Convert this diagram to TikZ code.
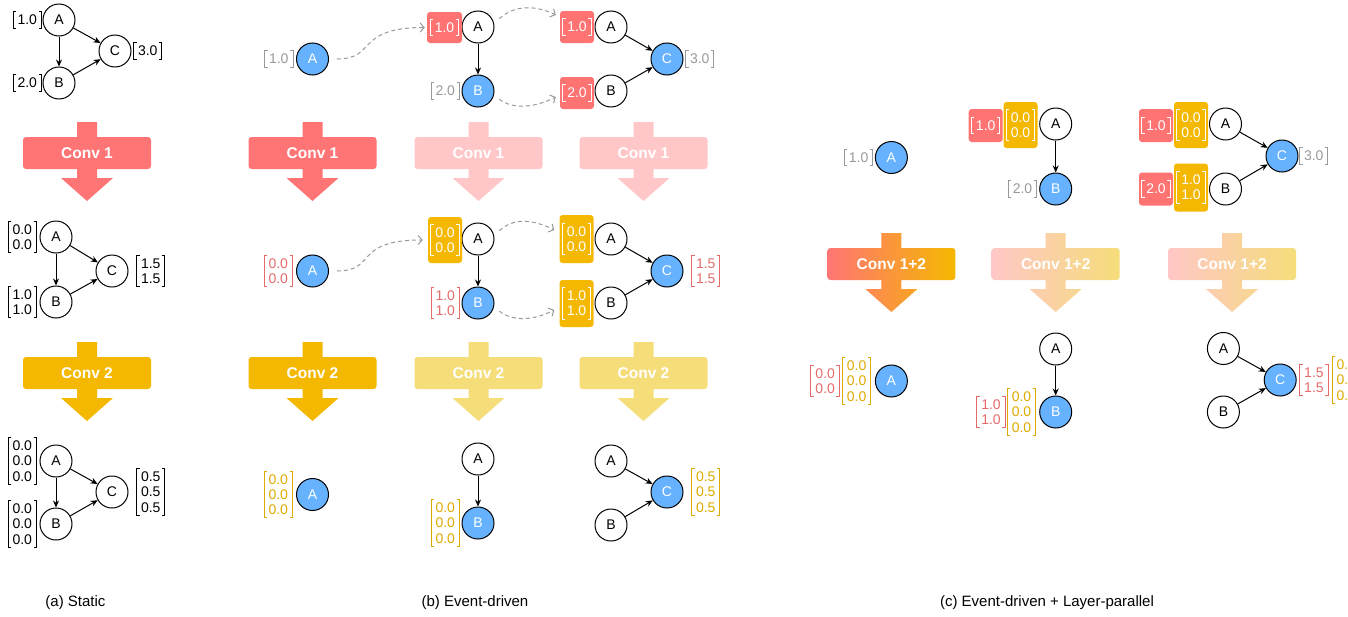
\documentclass[tikz,border=0pt]{standalone}
\usepackage{fontspec}
\setmainfont{Liberation Sans}
\usetikzlibrary{arrows.meta}
\definecolor{convred}{HTML}{FF7575}
\definecolor{convredL}{HTML}{FFC7C7}
\definecolor{convyel}{HTML}{F5B800}
\definecolor{convyelL}{HTML}{F5DD7A}
\definecolor{nodeblue}{HTML}{66B2FF}
\definecolor{labgray}{HTML}{999999}
\definecolor{labred}{HTML}{E56B6B}
\definecolor{labyel}{HTML}{DDAA00}
\definecolor{boxred}{HTML}{FF7373}
\definecolor{boxyel}{HTML}{F5B800}
\tikzset{
 wn/.style={circle, draw=black, line width=1pt, fill=white, minimum size=32pt, inner sep=0pt, font=\fontsize{14}{16}\selectfont},
 bn/.style={wn, fill=nodeblue, text=white},
 arr/.style={draw=black, line width=1pt, -{Stealth[length=7pt,width=6pt]}},
 evt/.style={draw=labgray, line width=1pt, dash pattern=on 4pt off 3pt, -{Straight Barb[length=4pt,width=9pt]}},
 mtxnode/.style={align=center, inner xsep=4.5pt, inner ysep=3.3pt, outer sep=0pt, font=\fontsize{14}{15.2}\selectfont},
 convtxt/.style={text=white, font=\fontsize{15.5}{18}\selectfont\bfseries, inner sep=0pt},
 capt/.style={font=\fontsize{15}{18}\selectfont}
}
% name, position, anchor, colour, rows
\newcommand{\mtx}[5]{%
  \node[mtxnode, text=#4, anchor=#3] (#1) at (#2) {#5};
  \draw[#4, line width=1pt] ([xshift=3pt]#1.north west) -- (#1.north west) -- (#1.south west) -- ([xshift=3pt]#1.south west);
  \draw[#4, line width=1pt] ([xshift=-3pt]#1.north east) -- (#1.north east) -- (#1.south east) -- ([xshift=-3pt]#1.south east);
}
% name, centre, width, height, fill, rows
\newcommand{\hlbox}[6]{%
  \node[rounded corners=3pt, fill=#5, minimum width=#3pt, minimum height=#4pt, inner sep=0pt] (#1) at (#2) {};
  \mtx{#1t}{#1.center}{center}{white}{#6}
}
% cx, top, half width, fill style, text, name
\newcommand{\convblk}[6]{%
  \path[#4] (#1-10,#2) rectangle (#1+10,#2+15)
     (#1-10,#2+47) rectangle (#1+10,#2+56)
     (#1-26,#2+56) -- (#1,#2+79) -- (#1+26,#2+56) -- cycle
     [rounded corners=3pt] (#1-#3,#2+15) rectangle (#1+#3,#2+47);
  \node[convtxt] (#6) at (#1,#2+31) {#5};
}
\begin{document}
\begin{tikzpicture}[x=1pt,y=-1pt]
\useasboundingbox (0,0) rectangle (1348,616);

% ================= (a) Static =================
\node[wn] (aA1) at (59,20) {A};
\node[wn] (aB1) at (59,83) {B};
\node[wn] (aC1) at (115,51) {C};
\draw[arr] (aA1) -- (aB1);
\draw[arr] (aA1) -- (aC1);
\draw[arr] (aB1) -- (aC1);
\mtx{aLA1}{[xshift=-1pt]aA1.west}{east}{black}{1.0}
\mtx{aLB1}{[xshift=-1pt]aB1.west}{east}{black}{2.0}
\mtx{aLC1}{[xshift=2pt]aC1.east}{west}{black}{3.0}

\convblk{87}{122}{64}{fill=convred}{Conv 1}{aConv1}

\node[wn] (aA2) at (56,237) {A};
\node[wn] (aB2) at (56,302) {B};
\node[wn] (aC2) at (112,271) {C};
\draw[arr] (aA2) -- (aB2);
\draw[arr] (aA2) -- (aC2);
\draw[arr] (aB2) -- (aC2);
\mtx{aLA2}{[xshift=-3pt]aA2.west}{east}{black}{0.0\\0.0}
\mtx{aLB2}{[xshift=-3pt]aB2.west}{east}{black}{1.0\\1.0}
\mtx{aLC2}{[xshift=8pt]aC2.east}{west}{black}{1.5\\1.5}

\convblk{87}{342}{64}{fill=convyel}{Conv 2}{aConv2}

\node[wn] (aA3) at (56,461) {A};
\node[wn] (aB3) at (56,524) {B};
\node[wn] (aC3) at (112,492) {C};
\draw[arr] (aA3) -- (aB3);
\draw[arr] (aA3) -- (aC3);
\draw[arr] (aB3) -- (aC3);
\mtx{aLA3}{[xshift=-3pt]aA3.west}{east}{black}{0.0\\0.0\\0.0}
\mtx{aLB3}{[xshift=-3pt]aB3.west}{east}{black}{0.0\\0.0\\0.0}
\mtx{aLC3}{[xshift=8pt]aC3.east}{west}{black}{0.5\\0.5\\0.5}

\node[capt] (capA) at (75.5,603) {(a) Static};

% ================= (b) Event-driven =================
% top row
\node[bn] (bA1) at (312.5,59) {A};
\mtx{bLA1}{[xshift=-3pt]bA1.west}{east}{labgray}{1.0}

\node[wn] (bA2) at (478,27) {A};
\node[bn] (bB2) at (478,91) {B};
\draw[arr] (bA2) -- (bB2);
\hlbox{rb21}{444.5,27.5}{35}{31}{boxred}{1.0}
\mtx{bLB2}{[xshift=-2pt]bB2.west}{east}{labgray}{2.0}

\node[wn] (bA3) at (611,27) {A};
\node[wn] (bB3) at (611,91) {B};
\node[bn] (bC3) at (667,59) {C};
\draw[arr] (bA3) -- (bC3);
\draw[arr] (bB3) -- (bC3);
\hlbox{rb31}{577,27}{34}{32}{boxred}{1.0}
\hlbox{rb32}{577,93}{34}{32}{boxred}{2.0}
\mtx{bLC3}{[xshift=2pt]bC3.east}{west}{labgray}{3.0}

\draw[evt] ([xshift=8pt]bA1.east) .. controls +(40,0) and +(-70,0) .. ([xshift=-2pt]rb21.west);
\draw[evt] ([xshift=7pt]bA2.30) .. controls +(15,-14) and +(-20,-10) .. ([xshift=-4pt,yshift=12pt]rb31.west);
\draw[evt] ([xshift=7pt]bB2.-30) .. controls +(15,11) and +(-20,10) .. ([xshift=-4pt,yshift=-4pt]rb32.west);

\convblk{312.5}{122}{64}{fill=convred}{Conv 1}{bConv1a}
\convblk{478.5}{122}{64}{fill=convredL}{Conv 1}{bConv1b}
\convblk{643.5}{122}{64}{fill=convredL}{Conv 1}{bConv1c}

% middle row
\node[bn] (bA4) at (312.5,271) {A};
\mtx{bLA4}{[xshift=-3.5pt]bA4.west}{east}{labred}{0.0\\0.0}

\node[wn] (bA5) at (478,239) {A};
\node[bn] (bB5) at (478,303) {B};
\draw[arr] (bA5) -- (bB5);
\hlbox{yb21}{445,240}{34}{46}{boxyel}{0.0\\0.0}
\mtx{bLB5}{[xshift=-2pt]bB5.west}{east}{labred}{1.0\\1.0}

\node[wn] (bA6) at (611,239) {A};
\node[wn] (bB6) at (611,303) {B};
\node[bn] (bC6) at (667,271) {C};
\draw[arr] (bA6) -- (bC6);
\draw[arr] (bB6) -- (bC6);
\hlbox{yb31}{576.5,239}{34}{48}{boxyel}{0.0\\0.0}
\hlbox{yb32}{576.5,303.5}{34}{47}{boxyel}{1.0\\1.0}
\mtx{bLC6}{[xshift=8pt]bC6.east}{west}{labred}{1.5\\1.5}

\draw[evt] ([xshift=8pt]bA4.east) .. controls +(40,0) and +(-70,0) .. ([xshift=-5pt]yb21.west);
\draw[evt] ([xshift=7pt]bA5.30) .. controls +(15,-14) and +(-20,-10) .. ([xshift=-5pt,yshift=9pt]yb31.west);
\draw[evt] ([xshift=7pt]bB5.-30) .. controls +(15,11) and +(-20,10) .. ([xshift=-5pt,yshift=-6.5pt]yb32.west);

\convblk{312.5}{342}{64}{fill=convyel}{Conv 2}{bConv2a}
\convblk{478.5}{342}{64}{fill=convyelL}{Conv 2}{bConv2b}
\convblk{643.5}{342}{64}{fill=convyelL}{Conv 2}{bConv2c}

% bottom row
\node[bn] (bA7) at (312.5,494.5) {A};
\mtx{bLA7}{[xshift=-3.5pt]bA7.west}{east}{labyel}{0.0\\0.0\\0.0}

\node[wn] (bA8) at (478,459) {A};
\node[bn] (bB8) at (478,523) {B};
\draw[arr] (bA8) -- (bB8);
\mtx{bLB8}{[xshift=-2pt]bB8.west}{east}{labyel}{0.0\\0.0\\0.0}

\node[wn] (bA9) at (611,461) {A};
\node[wn] (bB9) at (611,525) {B};
\node[bn] (bC9) at (667,492) {C};
\draw[arr] (bA9) -- (bC9);
\draw[arr] (bB9) -- (bC9);
\mtx{bLC9}{[xshift=8pt]bC9.east}{west}{labyel}{0.5\\0.5\\0.5}

\node[capt] (capB) at (475,603) {(b) Event-driven};

% ================= (c) Event-driven + Layer-parallel =================
\node[bn] (cA1) at (891.4,157.5) {A};
\mtx{cLA1}{[xshift=-2pt]cA1.west}{east}{labgray}{1.0}

\node[wn] (cA2) at (1055.7,124) {A};
\node[bn] (cB2) at (1055.7,189) {B};
\draw[arr] (cA2) -- (cB2);
\hlbox{crb21}{985.7,125.5}{34}{33}{boxred}{1.0}
\hlbox{cyb21}{1020.5,125}{34}{46}{boxyel}{0.0\\0.0}
\mtx{cLB2}{[xshift=-2.5pt]cB2.west}{east}{labgray}{2.0}

\node[wn] (cA3) at (1225.5,124) {A};
\node[wn] (cB3) at (1225.5,189) {B};
\node[bn] (cC3) at (1282,156) {C};
\draw[arr] (cA3) -- (cC3);
\draw[arr] (cB3) -- (cC3);
\hlbox{crb31}{1156,125.5}{34}{33}{boxred}{1.0}
\hlbox{cyb31}{1191,125}{34}{46}{boxyel}{0.0\\0.0}
\hlbox{crb32}{1156,189}{34}{33}{boxred}{2.0}
\hlbox{cyb32}{1191,187.5}{34}{48}{boxyel}{1.0\\1.0}
\mtx{cLC3}{[xshift=1pt]cC3.east}{west}{labgray}{3.0}

\convblk{891.4}{233}{64}{shade, left color=convred, right color=convyel}{Conv 1+2}{cConva}
\convblk{1055.7}{233}{64}{shade, left color=convredL, right color=convyelL}{Conv 1+2}{cConvb}
\convblk{1232}{233}{64}{shade, left color=convredL, right color=convyelL}{Conv 1+2}{cConvc}

\node[bn] (cA4) at (891.4,381) {A};
\mtx{cLA4y}{[xshift=-4pt]cA4.west}{east}{labyel}{0.0\\0.0\\0.0}
\mtx{cLA4r}{[xshift=-3pt]cLA4y.west}{east}{labred}{0.0\\0.0}

\node[wn] (cA5) at (1055.7,349) {A};
\node[bn] (cB5) at (1055.7,412) {B};
\draw[arr] (cA5) -- (cB5);
\mtx{cLB5y}{[xshift=-3.5pt]cB5.west}{east}{labyel}{0.0\\0.0\\0.0}
\mtx{cLB5r}{[xshift=-2pt]cLB5y.west}{east}{labred}{1.0\\1.0}

\node[wn] (cA6) at (1223.4,348.5) {A};
\node[wn] (cB6) at (1223.4,412) {B};
\node[bn] (cC6) at (1280.2,380) {C};
\draw[arr] (cA6) -- (cC6);
\draw[arr] (cB6) -- (cC6);
\mtx{cLC6r}{[xshift=3pt]cC6.east}{west}{labred}{1.5\\1.5}
\mtx{cLC6y}{[xshift=4pt]cLC6r.east}{west}{labyel}{0.5\\0.5\\0.5}

\node[capt] (capC) at (1047,603) {(c) Event-driven + Layer-parallel};
\end{tikzpicture}
\end{document}
